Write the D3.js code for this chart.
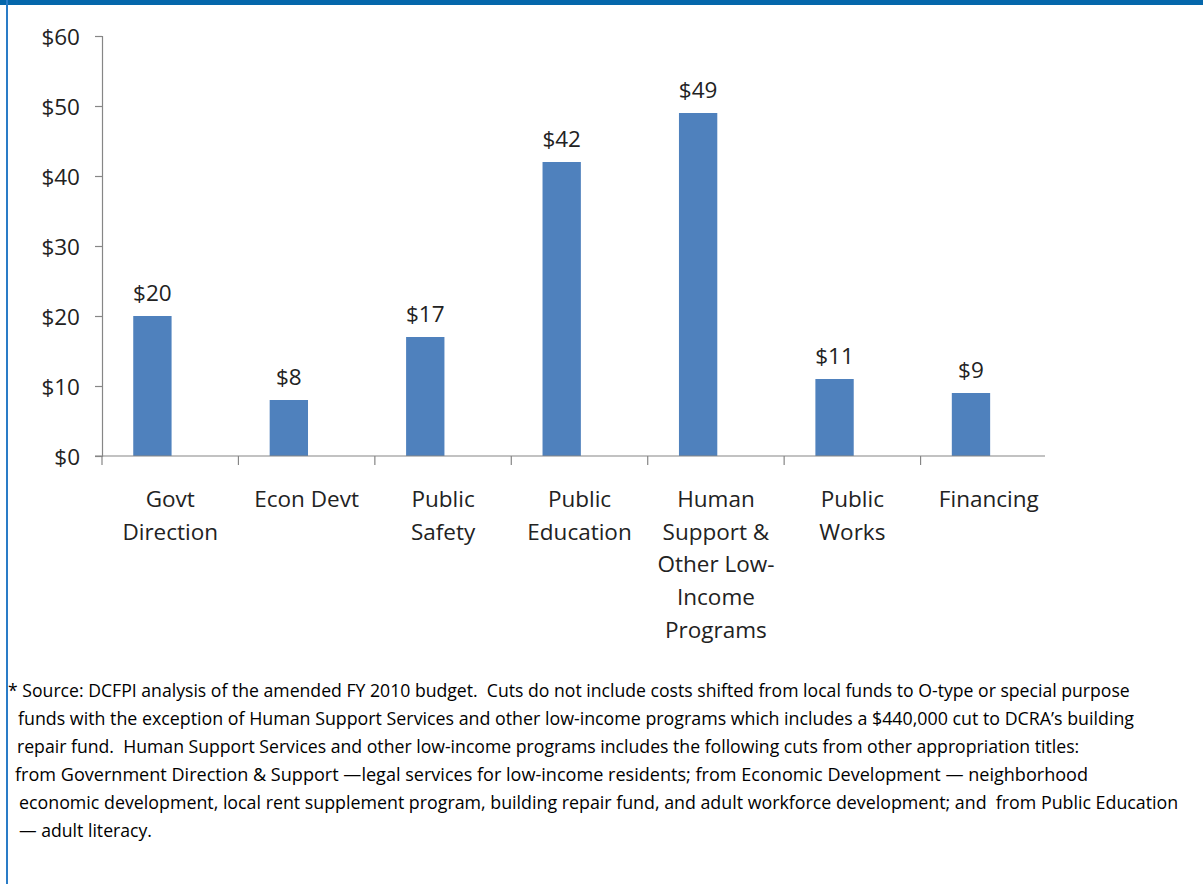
<!DOCTYPE html>
<html>
<head>
<meta charset="utf-8">
<script src="https://cdn.jsdelivr.net/npm/d3@7"></script>
<style>
  html, body { margin: 0; padding: 0; background: #fff; }
  svg { display: block; }
</style>
</head>
<body>
<svg id="chart" width="1203" height="884"></svg>
<script>
// ---- data ----
const categories = ["Govt Direction", "Econ Devt", "Public Safety", "Public Education",
  "Human Support & Other Low-Income Programs", "Public Works", "Financing"];
const categoryLabelLines = [["Govt", "Direction"], ["Econ Devt"], ["Public", "Safety"],
  ["Public", "Education"], ["Human", "Support &", "Other Low-", "Income", "Programs"],
  ["Public", "Works"], ["Financing"]];
const values = [20, 8, 17, 42, 49, 11, 9];
const yTicks = [0, 10, 20, 30, 40, 50, 60];
const footnoteLines = [
  "* Source: DCFPI analysis of the amended FY 2010 budget.  Cuts do not include costs shifted from local funds to O-type or special purpose",
  "funds with the exception of Human Support Services and other low-income programs which includes a $440,000 cut to DCRA\u2019s building",
  "repair fund.  Human Support Services and other low-income programs includes the following cuts from other appropriation titles:",
  "from Government Direction & Support \u2014legal services for low-income residents; from Economic Development \u2014 neighborhood",
  "economic development, local rent supplement program, building repair fund, and adult workforce development; and  from Public Education",
  "\u2014 adult literacy."
];

// ---- layout ----
const svg = d3.select("#chart");
const W = 1203, H = 884;
const font = "'Open Sans', 'DejaVu Sans', sans-serif";

svg.append("rect").attr("width", W).attr("height", H).attr("fill", "#fff");

// header band & left border
svg.append("rect").attr("x", 0).attr("y", 0).attr("width", W).attr("height", 5).attr("fill", "#0567ab");
svg.append("rect").attr("x", 6).attr("y", 0).attr("width", 2).attr("height", H).attr("fill", "#2a7cc7");

const x = d3.scaleBand().domain(categories).range([102, 1057]).paddingInner(0).paddingOuter(0);
const y = d3.scaleLinear().domain([0, 60]).range([456, 36]);
const axisColor = "#868686";
const axisEnd = 1045;

// y axis
const yAxis = svg.append("g").attr("transform", "translate(102,0)")
  .call(d3.axisLeft(y).tickValues(yTicks).tickSize(7).tickPadding(15).tickFormat(d => "$" + d));
yAxis.select(".domain").attr("stroke", axisColor).attr("stroke-width", 1.2);
yAxis.selectAll(".tick line").attr("stroke", axisColor).attr("stroke-width", 1.2);
yAxis.selectAll(".tick text").attr("font-family", font).attr("font-size", 22.5).attr("fill", "#222").attr("dy", "0.36em");

// bars
const barOffset = 0.229, barWidth = 0.281;
svg.append("g").selectAll("rect").data(values).join("rect")
  .attr("x", (d, i) => x(categories[i]) + x.bandwidth() * barOffset)
  .attr("width", x.bandwidth() * barWidth)
  .attr("y", d => y(d))
  .attr("height", d => y(0) - y(d))
  .attr("fill", "#4f81bd");

// value labels
svg.append("g").selectAll("text").data(values).join("text")
  .attr("x", (d, i) => x(categories[i]) + x.bandwidth() * (barOffset + barWidth / 2))
  .attr("y", d => y(d) - 15)
  .attr("text-anchor", "middle")
  .attr("font-family", font).attr("font-size", 22.5).attr("fill", "#222")
  .text(d => "$" + d);

// x axis: line + boundary ticks
const xg = svg.append("g");
xg.append("line").attr("x1", 95).attr("x2", axisEnd).attr("y1", y(0)).attr("y2", y(0))
  .attr("stroke", axisColor).attr("stroke-width", 1.2);
const boundaries = categories.map(c => x(c));
xg.selectAll(".bt").data(boundaries).join("line").attr("class", "bt")
  .attr("x1", d => d).attr("x2", d => d).attr("y1", y(0)).attr("y2", y(0) + 9)
  .attr("stroke", axisColor).attr("stroke-width", 1.2);

// category labels
const cl = svg.append("g").selectAll("text").data(categories).join("text")
  .attr("text-anchor", "middle")
  .attr("font-family", font).attr("font-size", 22.5).attr("fill", "#222")
  .attr("transform", d => `translate(${x(d) + x.bandwidth() / 2},507)`);
cl.selectAll("tspan").data((d, i) => categoryLabelLines[i]).join("tspan")
  .attr("x", 0).attr("y", (d, j) => j * 32.7).text(d => d);

// footnote (condensed by horizontal scaling to the reference line widths)
const footStarts = [8, 18, 17, 15, 19, 19];
const footEnds = [1130, 1135, 1080, 1089, 1179, 152];
svg.append("g").selectAll("text").data(footnoteLines).join("text")
  .attr("x", 0).attr("y", 0)
  .attr("font-family", font).attr("font-size", 19).attr("fill", "#000")
  .style("white-space", "pre")
  .text(d => d)
  .each(function (d, i) {
    const natural = this.getComputedTextLength();
    const k = (footEnds[i] - footStarts[i]) / natural;
    d3.select(this).attr("transform", `translate(${footStarts[i]},${697 + i * 28}) scale(${k},1)`);
  });
</script>
</body>
</html>
